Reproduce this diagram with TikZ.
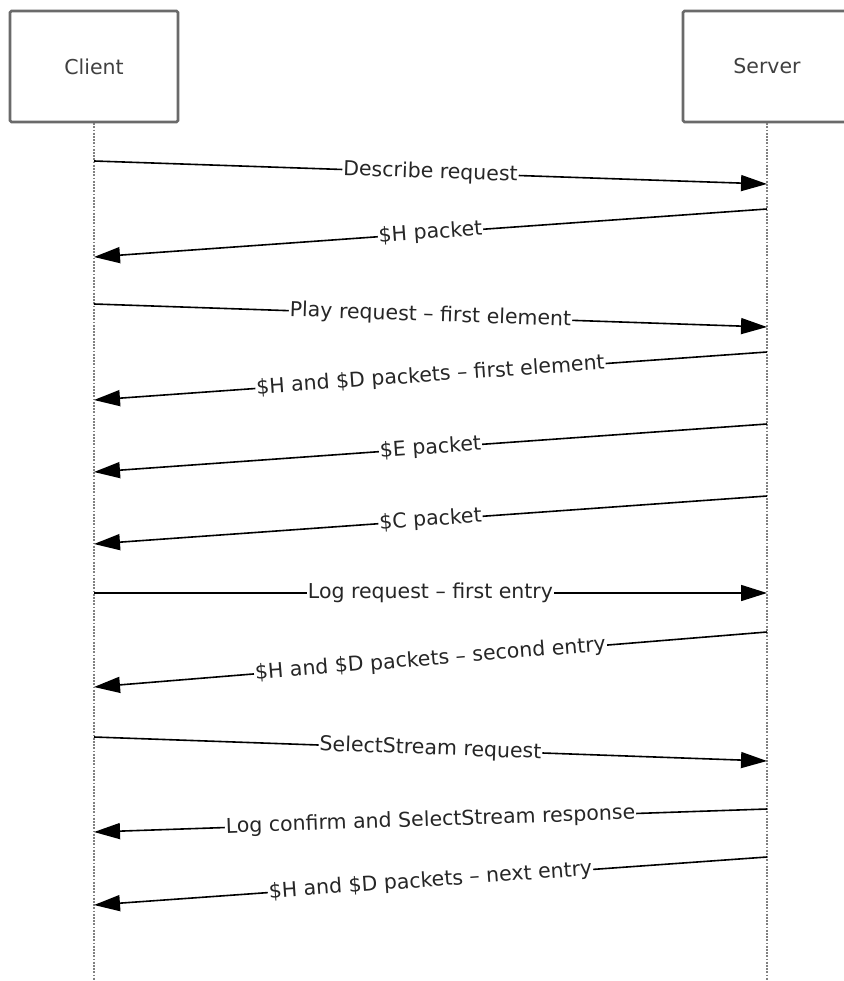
\documentclass[tikz,border=0pt]{standalone}
\usepackage{fontspec}
\setmainfont{DejaVu Sans}
\usetikzlibrary{arrows.meta}

\definecolor{boxgray}{HTML}{6A6A6A}
\definecolor{textgray}{HTML}{404040}
\definecolor{linegray}{HTML}{808080}

\tikzset{
  actor/.style={draw=boxgray, line width=2.6pt, rounded corners=1.5pt, fill=white,
    minimum width=168pt, minimum height=111pt, text=textgray},
  lifeline/.style={draw=linegray, line width=2.2pt, dash pattern=on 1.8pt off 1.4pt},
  msg/.style={line width=1.6pt, -{Triangle[length=26pt,width=16pt]}},
  lbl/.style={midway, sloped, fill=white, inner sep=1pt, text=black!85}
}

\begin{document}
\begin{tikzpicture}[x=1pt, y=-1pt, font=\fontsize{20.5}{24}\selectfont]
     \useasboundingbox (0,0) rectangle (843,981);

     %Actors
     \node[actor] (client) at (94,66.5) {Client};
     \node[actor] (server) at (767,66.5) {Server};

     %Lifelines
     \coordinate (cend) at (client.south |- 0,981);
     \coordinate (send) at (server.south |- 0,981);
     \draw[lifeline] (client.south) -- (cend);
     \draw[lifeline] (server.south) -- (send);

     %Describe
     \coordinate (c1) at (94,161);  \coordinate (s1) at (767,184);
     \draw[msg] (c1) -- node[lbl] {Describe request} (s1);
     \coordinate (s2) at (767,209); \coordinate (c2) at (94,257);
     \draw[msg] (s2) -- node[lbl] {\$H packet} (c2);

     %Play
     \coordinate (c3) at (94,304);  \coordinate (s3) at (767,327);
     \draw[msg] (c3) -- node[lbl] {Play request -- first element} (s3);
     \coordinate (s4) at (767,352); \coordinate (c4) at (94,400);
     \draw[msg] (s4) -- node[lbl] {\$H and \$D packets -- first element} (c4);
     \coordinate (s5) at (767,424); \coordinate (c5) at (94,472);
     \draw[msg] (s5) -- node[lbl] {\$E packet} (c5);
     \coordinate (s6) at (767,496); \coordinate (c6) at (94,544);
     \draw[msg] (s6) -- node[lbl] {\$C packet} (c6);

     %Log
     \coordinate (c7) at (94,593);  \coordinate (s7) at (767,593);
     \draw[msg] (c7) -- node[lbl] {Log request -- first entry} (s7);
     \coordinate (s8) at (767,632); \coordinate (c8) at (94,687);
     \draw[msg] (s8) -- node[lbl] {\$H and \$D packets -- second entry} (c8);

     %SelectStream
     \coordinate (c9) at (94,737);  \coordinate (s9) at (767,761);
     \draw[msg] (c9) -- node[lbl] {SelectStream request} (s9);
     \coordinate (s10) at (767,809); \coordinate (c10) at (94,832);
     \draw[msg] (s10) -- node[lbl] {Log confirm and SelectStream response} (c10);
     \coordinate (s11) at (767,857); \coordinate (c11) at (94,905);
     \draw[msg] (s11) -- node[lbl] {\$H and \$D packets -- next entry} (c11);

\end{tikzpicture}
\end{document}
